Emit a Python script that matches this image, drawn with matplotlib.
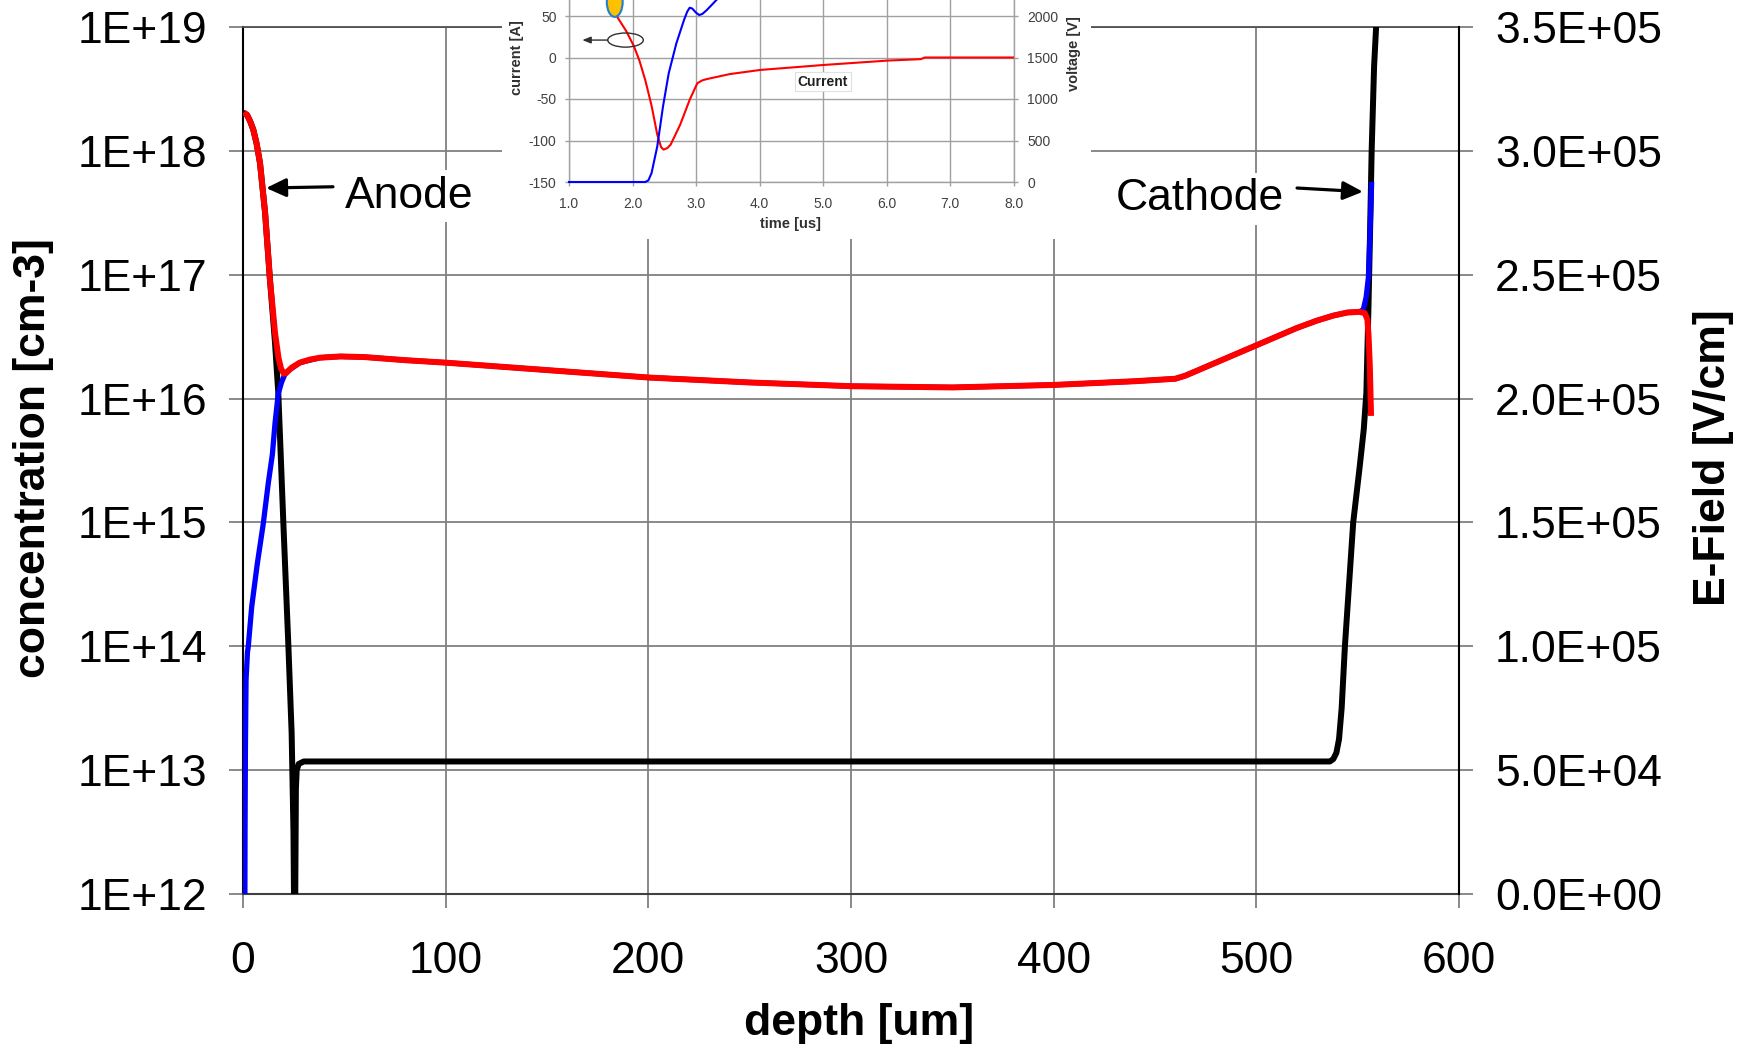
import numpy as np
import matplotlib
matplotlib.use("Agg")
import matplotlib.pyplot as plt
from matplotlib.patches import Rectangle, Ellipse
from matplotlib.ticker import FixedLocator, FuncFormatter, NullLocator

plt.rcParams['font.family'] = ['Liberation Sans', 'DejaVu Sans']

# ---------------- depth profiles (depth in um, log10 of concentration in cm-3) ----------------
hole_depth = [0.4, 2.0, 3.5, 5.1, 6.7, 8.4, 10.9, 13.3, 15.8, 17.5, 18.8, 20.2, 21.5, 24, 28, 33, 38,
              48, 60, 80, 100, 150, 200, 250, 300, 350, 400, 440, 460, 465, 470, 480, 490, 500, 510,
              520, 530, 538, 545, 551, 553.5, 554.8, 555.4, 556.0, 556.6]
hole_log10 = [18.31, 18.29, 18.24, 18.17, 18.06, 17.90, 17.50, 16.96, 16.53, 16.33, 16.24, 16.20, 16.21,
              16.25, 16.29, 16.315, 16.33, 16.34, 16.335, 16.31, 16.29, 16.23, 16.17, 16.13, 16.10, 16.09,
              16.11, 16.14, 16.16, 16.185, 16.22, 16.29, 16.36, 16.43, 16.50, 16.57, 16.63, 16.67,
              16.695, 16.70, 16.69, 16.64, 16.50, 16.26, 15.86]

electron_depth = [0.9, 1.0, 1.2, 1.5, 2.2, 2.6, 4.3, 7.0, 10.0, 12.5, 14.5, 15.8, 17.4, 19.0, 20.5, 22,
                  28, 38, 48, 60, 80, 100, 150, 200, 250, 300, 350, 400, 440, 460, 465, 470, 480, 490,
                  500, 510, 520, 530, 538, 545, 551, 552.8, 554.2, 555.3, 556.1, 556.9]
electron_log10 = [11.8, 12.5, 13.2, 13.73, 13.95, 14.0, 14.32, 14.66, 14.99, 15.32, 15.55, 15.80, 16.04,
                  16.13, 16.19, 16.22, 16.29, 16.33, 16.34, 16.335, 16.31, 16.29, 16.23, 16.17, 16.13,
                  16.10, 16.09, 16.11, 16.14, 16.16, 16.185, 16.22, 16.29, 16.36, 16.43, 16.50, 16.57,
                  16.63, 16.67, 16.695, 16.70, 16.72, 16.82, 16.98, 17.33, 17.75]

doping_depth = [0.0, 2.0, 3.5, 5.1, 6.7, 8.4, 10.9, 13.3, 15.8, 17.4, 18.6, 19.9, 22.4, 24.0, 24.9, 25.4,
                25.6, 25.9, 26.1, 26.5, 27.5, 30, 100, 200, 300, 400, 500, 536.3, 538.0, 539.5, 540.8,
                542.1, 543.7, 547.8, 551.0, 553.0, 554.3, 555.3, 556.1, 556.9, 558.1, 559.1, 559.5]
doping_log10 = [18.31, 18.29, 18.24, 18.17, 18.06, 17.90, 17.50, 16.96, 16.45, 16.05, 15.55, 15.0, 14.0,
                13.3, 12.5, 11.5, 11.5, 12.3, 12.85, 13.0, 13.05, 13.07, 13.07, 13.07, 13.07, 13.07, 13.07,
                13.07, 13.09, 13.14, 13.25, 13.50, 14.0, 15.0, 15.45, 15.75, 16.05, 16.72, 17.33, 18.0,
                18.68, 19.0, 19.2]

depth_ticks = [0, 100, 200, 300, 400, 500, 600]
conc_ticks = [1e12, 1e13, 1e14, 1e15, 1e16, 1e17, 1e18, 1e19]
efield_ticks = [0, 5e4, 1e5, 1.5e5, 2e5, 2.5e5, 3e5, 3.5e5]

# annotation anchors (depth, log10 conc)
anode_text_at = (50.1, 17.54)
anode_arrow = [(44.4, 17.71), (11.4, 17.70)]
cathode_text_at = (430.7, 17.52)
cathode_arrow = [(520.1, 17.70), (552.6, 17.67)]

# ---------------- switching waveforms for the small chart ----------------
time_i = [1.70, 1.75, 1.90, 2.02, 2.11, 2.20, 2.30, 2.39, 2.45, 2.49, 2.55, 2.60, 2.75, 2.90, 3.02,
          3.10, 3.17, 3.53, 4.01, 5.01, 6.02, 6.54, 6.60, 8.0]
current_a = [70, 50, 32, 14, -4, -27, -58, -93, -108, -111, -109, -105, -81, -51, -31, -27.5, -26,
             -20, -15, -9, -3.7, -2, 0, 0]
time_v = [1.0, 2.2, 2.25, 2.30, 2.39, 2.48, 2.57, 2.69, 2.81, 2.86, 2.90, 2.94, 3.00, 3.05, 3.10,
          3.17, 3.32, 3.40]
voltage_v = [0, 0, 20, 108, 430, 910, 1310, 1670, 1950, 2050, 2100, 2090, 2040, 2012, 2025, 2072,
             2192, 2260]
time_ticks = [1, 2, 3, 4, 5, 6, 7, 8]
current_ticks = [-150, -100, -50, 0, 50]
voltage_ticks = [0, 500, 1000, 1500, 2000]

FS = 32
W, H = 1754, 1048
fig = plt.figure(figsize=(W / 100, H / 100), dpi=100)
fig.patch.set_facecolor('white')

ax = fig.add_axes([243 / W, 1 - 894 / H, 1216 / W, 867 / H])
ax.set_yscale('log')
ax.set_xlim(0, 600)
ax.set_ylim(1e12, 1e19)

ax.plot(doping_depth, 10 ** np.array(doping_log10), color='black', lw=4.3,
        solid_capstyle='butt', solid_joinstyle='round', zorder=3)
ax.plot(electron_depth, 10 ** np.array(electron_log10), color='#0000FF', lw=3.8,
        solid_capstyle='butt', solid_joinstyle='round', zorder=4)
ax.plot(hole_depth, 10 ** np.array(hole_log10), color='#FF0000', lw=4.3,
        solid_capstyle='butt', solid_joinstyle='round', zorder=5)

ax.xaxis.set_major_locator(FixedLocator(depth_ticks))
ax.yaxis.set_major_locator(FixedLocator(conc_ticks))
ax.yaxis.set_minor_locator(NullLocator())
ax.xaxis.set_minor_locator(NullLocator())
ax.yaxis.set_major_formatter(FuncFormatter(lambda v, p: f'{v:.0E}'))
ax.xaxis.set_major_formatter(FuncFormatter(lambda v, p: f'{v:.0f}'))
ax.grid(True, which='major', color='#808080', lw=1.3, zorder=1)
ax.set_axisbelow(True)
ax.tick_params(axis='y', which='major', direction='out', length=10, width=1.3, color='#808080',
               pad=16, labelsize=FS)
ax.tick_params(axis='x', which='major', direction='out', length=10, width=1.3, color='#808080',
               pad=24, labelsize=FS)
ax.spines['left'].set_color('black')
ax.spines['left'].set_linewidth(1.5)
ax.spines['bottom'].set_color('#404040')
ax.spines['bottom'].set_linewidth(1.5)
ax.spines['top'].set_color('#505050')
ax.spines['top'].set_linewidth(1.3)
ax.spines['right'].set_visible(False)

ax.set_xlabel('depth [um]', fontsize=FS, fontweight='bold')
ax.xaxis.set_label_coords(0.507, -0.149)
ax.xaxis.label.set_va('center')
ax.set_ylabel('concentration [cm-3]', fontsize=FS, fontweight='bold')
ax.yaxis.set_label_coords(-0.172, 0.503)
ax.yaxis.label.set_va('center')

ax2 = ax.twinx()
ax2.set_ylim(0, 3.5e5)
ax2.yaxis.set_major_locator(FixedLocator(efield_ticks))
ax2.yaxis.set_major_formatter(FuncFormatter(lambda v, p: f'{v:.1E}'))
ax2.tick_params(axis='y', direction='out', length=10, width=1.3, color='#808080', pad=16,
                labelsize=FS)
ax2.spines['right'].set_color('black')
ax2.spines['right'].set_linewidth(1.5)
for s in ('left', 'top', 'bottom'):
    ax2.spines[s].set_visible(False)
ax2.set_ylabel('E-Field [V/cm]', fontsize=FS, fontweight='bold', rotation=90)
ax2.yaxis.set_label_coords(1.2097, 0.503)
ax2.yaxis.label.set_va('center')

# electrode labels with arrows
box = dict(facecolor='white', edgecolor='none', pad=4)
ax.text(anode_text_at[0], 10 ** anode_text_at[1], 'Anode', fontsize=FS, ha='left', va='baseline',
        bbox=box, zorder=6)
ax.text(cathode_text_at[0], 10 ** cathode_text_at[1], 'Cathode', fontsize=FS, ha='left',
        va='baseline', bbox=box, zorder=6)
arrow_style = dict(arrowstyle='-|>,head_length=0.6,head_width=0.28', color='black', lw=2.3,
                   shrinkA=0, shrinkB=0, mutation_scale=20)
for (x0, y0), (x1, y1) in (anode_arrow, cathode_arrow):
    ax.annotate('', xy=(x1, 10 ** y1), xytext=(x0, 10 ** y0), arrowprops=arrow_style, zorder=6)

# ---------------- small waveform chart at the top ----------------
rect = Rectangle((502 / W, 1 - 239 / H), 589 / W, 239 / H + 0.01, transform=fig.transFigure,
                 facecolor='white', edgecolor='none', zorder=2)
fig.add_artist(rect)

ins = fig.add_axes([569 / W, 1 - 182 / H, 444.6 / W, 207.5 / H])
ins.set_zorder(3)
ins.set_xlim(1, 8)
ins.set_ylim(-150, 100)
ins.xaxis.set_major_locator(FixedLocator(time_ticks))
ins.yaxis.set_major_locator(FixedLocator(current_ticks))
ins.xaxis.set_major_formatter(FuncFormatter(lambda v, p: f'{v:.1f}'))
ins.yaxis.set_major_formatter(FuncFormatter(lambda v, p: f'{v:.0f}'))
ins.grid(True, color='#a0a0a0', lw=1.0)
ins.set_axisbelow(True)
for s in ins.spines.values():
    s.set_color('#a0a0a0')
    s.set_linewidth(1.0)
ins.tick_params(axis='both', direction='out', length=3, width=1, color='#a0a0a0',
                labelsize=10, labelcolor='#404040')
ins.tick_params(axis='y', pad=6)
ins.tick_params(axis='x', pad=8)
ins.plot(time_i, current_a, color='#FF0000', lw=1.5, zorder=3)
ins.add_patch(Ellipse((1.72, 67), 0.25, 36, facecolor='#FFC000', edgecolor='#1F7FD0', lw=1.5,
                      zorder=5, clip_on=False))
ins.add_patch(Ellipse((1.89, 21), 0.56, 17, facecolor='none', edgecolor='#303030', lw=1.0,
                      zorder=5))
ins.annotate('', xy=(1.21, 21), xytext=(1.61, 21),
             arrowprops=dict(arrowstyle='-|>,head_length=0.5,head_width=0.2', color='#303030',
                             lw=1.0, shrinkA=0, shrinkB=0))
ins.text(5.0, -29, 'Current', fontsize=10, fontweight='bold', ha='center', va='center',
         color='#202020', bbox=dict(facecolor='white', edgecolor='#e0e0e0', lw=0.8, pad=2),
         zorder=6)
ins.set_xlabel('time [us]', fontsize=10.5, fontweight='bold', color='#303030')
ins.xaxis.set_label_coords(0.499, -0.202)
ins.xaxis.label.set_va('center')
ins.set_ylabel('current [A]', fontsize=10.5, fontweight='bold', color='#303030')
ins.yaxis.set_label_coords(-0.117, 0.602)
ins.yaxis.label.set_va('center')

insv = ins.twinx()
insv.set_zorder(4)
insv.set_ylim(0, 2500)
insv.yaxis.set_major_locator(FixedLocator(voltage_ticks))
insv.yaxis.set_major_formatter(FuncFormatter(lambda v, p: f'{v:.0f}'))
for s in insv.spines.values():
    s.set_visible(False)
insv.tick_params(axis='y', direction='out', length=3, width=1, color='#a0a0a0', labelsize=10,
                 labelcolor='#404040', pad=7)
insv.plot(time_v, voltage_v, color='#0000FF', lw=1.5, clip_on=False)
insv.set_ylabel('voltage [V]', fontsize=10.5, fontweight='bold', color='#303030', rotation=90)
insv.yaxis.set_label_coords(1.136, 0.617)
insv.yaxis.label.set_va('center')

fig.savefig('out.png', dpi=100, facecolor='white')
